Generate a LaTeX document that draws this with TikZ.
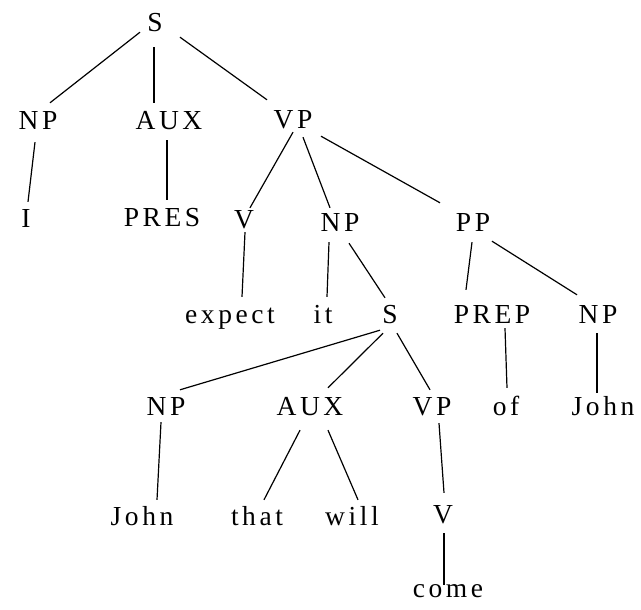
\documentclass[tikz,border=0pt]{standalone}
\usepackage{fontspec}
\setmainfont{Liberation Serif}[LetterSpace=13]
\newcommand{\treeedge}[6]{\draw[edge] ([shift={(#2,#3)}]#1.south) -- ([shift={(#5,#6)}]#4.north);}
\begin{document}
\begin{tikzpicture}[x=1pt,y=-1pt,
  lbl/.style={anchor=base, inner sep=0pt, text height=18pt, text depth=0pt, font=\fontsize{27.5}{30}\selectfont},
  edge/.style={line width=1.2pt, black}]
\useasboundingbox[fill=white] (0,0) rectangle (641,610);
% row 1
\node[lbl] (s0) at (155,32) {S};
% row 2
\node[lbl] (np1) at (38,130) {NP};
\node[lbl] (aux1) at (169,130) {AUX};
\node[lbl] (vp1) at (293,129) {VP};
% row 3
\node[lbl] (i) at (26,227) {I};
\node[lbl] (pres) at (162,226) {PRES};
\node[lbl] (v1) at (244,229) {V};
\node[lbl] (np2) at (340,231) {NP};
\node[lbl] (pp) at (473,231) {PP};
% row 4
\node[lbl] (expect) at (230,323) {expect};
\node[lbl] (it) at (323,323) {it};
\node[lbl] (s2) at (390,323) {S};
\node[lbl] (prep) at (492,323) {PREP};
\node[lbl] (np3) at (598,323) {NP};
% row 5
\node[lbl] (np4) at (166,415) {NP};
\node[lbl] (aux2) at (310,415) {AUX};
\node[lbl] (vp2) at (432,415) {VP};
\node[lbl] (of) at (506,415) {of};
\node[lbl] (john2) at (603,415) {John};
% row 6
\node[lbl] (john1) at (142,525) {John};
\node[lbl] (that) at (257,525) {that};
\node[lbl] (will) at (352,525) {will};
\node[lbl] (v2) at (443,523) {V};
% row 7
\node[lbl] (come) at (448,597) {come};
% edges
\treeedge{s0}{-15}{0}{np1}{12}{-9}
\treeedge{s0}{-1}{15}{aux1}{-15}{-9}
\treeedge{s0}{25}{5}{vp1}{-26}{-11}
\treeedge{np1}{-3}{12}{i}{2}{-7}
\treeedge{aux1}{-2}{10}{pres}{5}{-8}
\treeedge{vp1}{0}{3}{v1}{6}{-3}
\treeedge{vp1}{10}{8}{np2}{-10}{-5}
\treeedge{vp1}{28}{7}{pp}{-33}{-10}
\treeedge{v1}{1}{3}{expect}{12}{-8}
\treeedge{np2}{-11}{11}{it}{4}{-8}
\treeedge{np2}{9}{12}{s2}{-5}{-7}
\treeedge{pp}{-1}{11}{prep}{-26}{-15}
\treeedge{pp}{19}{10}{np3}{-21}{-10}
\treeedge{s2}{-10}{7}{np4}{14}{-7}
\treeedge{s2}{-7}{10}{aux2}{18}{-9}
\treeedge{s2}{7}{10}{vp2}{-2}{-7}
\treeedge{prep}{13}{5}{of}{1}{-9}
\treeedge{np3}{-1}{10}{john2}{-6}{-4}
\treeedge{np4}{-5}{7}{john1}{15}{-7}
\treeedge{aux2}{-10}{15}{that}{7}{-7}
\treeedge{aux2}{18}{15}{will}{6}{-7}
\treeedge{vp2}{7}{8}{v2}{1}{-12}
\treeedge{v2}{1}{10}{come}{-4}{6}
\end{tikzpicture}
\end{document}
